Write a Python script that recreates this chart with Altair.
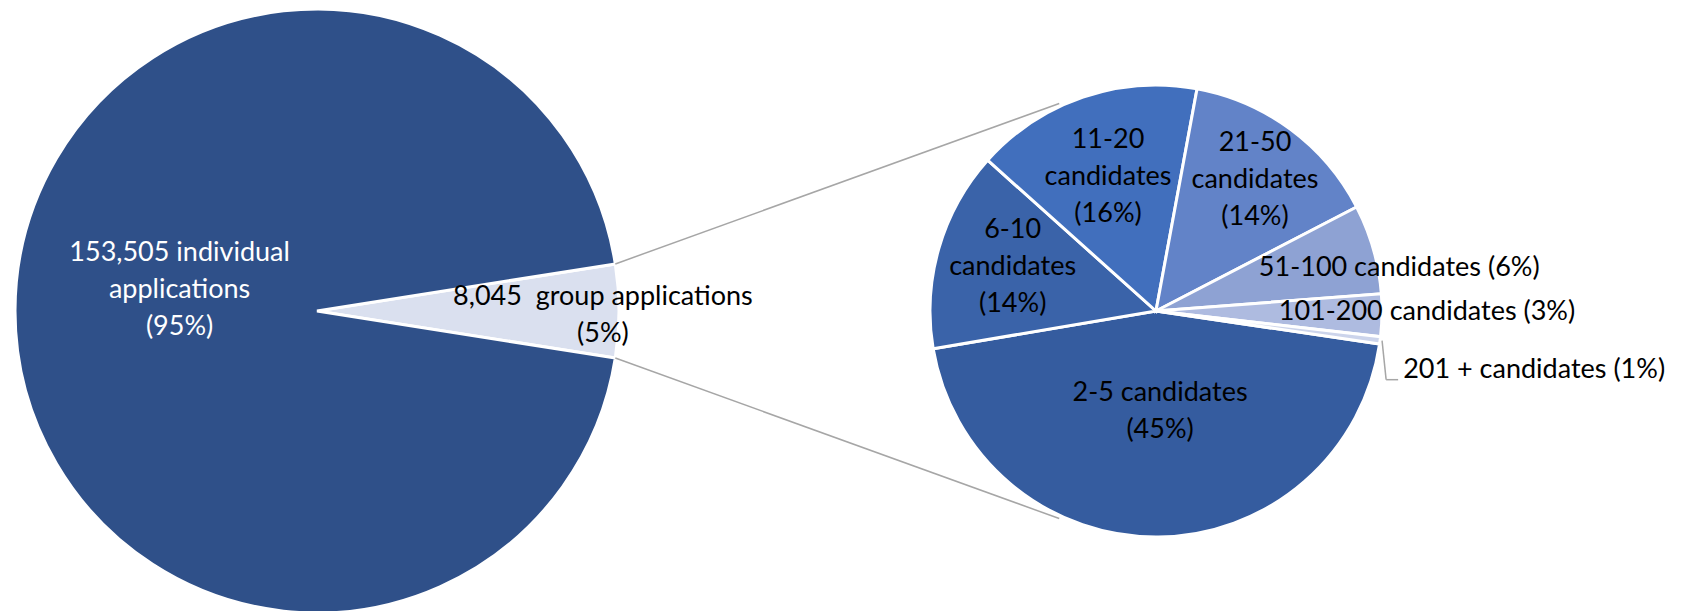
import math
import altair as alt
import pandas as pd

# ---------------- data ----------------
main_labels = ["group", "individual"]
main_values = [8045, 153505]
main_texts = ["8,045\u00a0 group applications\n(5%)", "153,505 individual\napplications\n(95%)"]

group_labels = ["2-5", "6-10", "11-20", "21-50", "51-100", "101-200", "201+"]
group_values = [3620, 1150, 1310, 1165, 515, 243, 42]
group_texts = [
    "2-5 candidates\n(45%)",
    "6-10\ncandidates\n(14%)",
    "11-20\ncandidates\n(16%)",
    "21-50\ncandidates\n(14%)",
    "51-100 candidates (6%)",
    "101-200 candidates (3%)",
    "201 + candidates (1%)",
]

# ---------------- styles ----------------
main_colors = ["#DAE0EF", "#2F5089"]
group_colors = ["#355C9F", "#3A63A9", "#416FBD", "#6283C8", "#8EA2D3", "#AEBBE0", "#CCD4EB"]
main_text_colors = ["#000000", "#FFFFFF"]
group_text_colors = ["#000000"] * 7
FONT = "Lato"
FONT_SIZE = 27
LINE_H = 37
GREY = "#A6A6A6"

# ---------------- layout ----------------
W, H = 1683, 611
L_CX, L_CY, L_R = 317, 311, 302
R_CX, R_CY, R_R = 1156, 311, 226
L_START = 90 - 180 * main_values[0] / sum(main_values)   # centre group slice at 3 o'clock
R_START = 98.4
main_label_r = [286, 139]
main_label_nudge = [1.0, 8.7]
group_label_r = [101, 150, 142, 164, 247, 271, 254]
group_label_nudge = [-1.7, 1.0, -0.9, 0.6, 5.9, -0.95, 5.9]
group_label_align = ["center"] * 6 + ["left"]
CONNECT_ANGLE = 25  # degrees from vertical on the second pie

main_df = pd.DataFrame({
    "label": main_labels, "value": main_values, "text": main_texts,
    "idx": list(range(len(main_labels))), "tcolor": main_text_colors,
    "lr": main_label_r, "nudge": main_label_nudge, "align": ["center", "center"],
})
group_df = pd.DataFrame({
    "label": group_labels, "value": group_values, "text": group_texts,
    "idx": list(range(len(group_labels))), "tcolor": group_text_colors,
    "lr": group_label_r, "nudge": group_label_nudge, "align": group_label_align,
})


def pie(df, cx, cy, r, start, labels, colors):
    s = math.radians(start)
    return alt.Chart(df).mark_arc(radius=r, stroke="white", strokeWidth=3).encode(
        x=alt.value(cx), y=alt.value(cy),
        theta=alt.Theta("value:Q", stack=True, scale=alt.Scale(range=[s, s + 2 * math.pi])),
        color=alt.Color("label:N", scale=alt.Scale(domain=labels, range=colors), legend=None),
        order=alt.Order("idx:Q"),
    )


def label_base(df, cx, cy, start):
    return alt.Chart(df).transform_window(
        cum="sum(value)", sort=[alt.SortField("idx")], frame=[None, 0]
    ).transform_joinaggregate(total="sum(value)").transform_calculate(
        mid=f"({start} + 360*(datum.cum - datum.value/2)/datum.total + datum.nudge)*PI/180",
        emid=f"({start} + 360*(datum.cum - datum.value/2)/datum.total)*PI/180",
        nlines="split(datum.text, '\\n').length",
    ).transform_calculate(
        lx=f"{cx} + datum.lr*sin(datum.mid)",
        ly=f"{cy} - datum.lr*cos(datum.mid)",
    ).transform_calculate(
        ty=f"datum.ly - (datum.nlines - 1)*{LINE_H}/2",
    )


def texts(base, align):
    return base.transform_filter(f"datum.align == '{align}'").mark_text(
        align=align, baseline="middle", font=FONT, fontSize=FONT_SIZE,
        lineHeight=LINE_H, lineBreak="\n",
    ).encode(
        x=alt.X("lx:Q", scale=None, axis=None),
        y=alt.Y("ty:Q", scale=None, axis=None),
        text="text:N",
        color=alt.Color("tcolor:N", scale=None),
    )


left_pie = pie(main_df, L_CX, L_CY, L_R, L_START, main_labels, main_colors)
right_pie = pie(group_df, R_CX, R_CY, R_R, R_START, group_labels, group_colors)

lbase = label_base(main_df, L_CX, L_CY, L_START)
rbase = label_base(group_df, R_CX, R_CY, R_START)

# leader line for the tiny slice (from slice edge to the left-aligned label)
leader_base = rbase.transform_filter("datum.align == 'left'").transform_calculate(
    ex=f"{R_CX} + {R_R + 2}*sin(datum.emid)",
    ey=f"{R_CY} - {R_R + 2}*cos(datum.emid)",
    kx="datum.lx - 17", ky="datum.ly + 10", kx2="datum.lx - 5",
)
leader1 = leader_base.mark_rule(color=GREY, strokeWidth=1.5).encode(
    x=alt.X("ex:Q", scale=None, axis=None), y=alt.Y("ey:Q", scale=None, axis=None),
    x2="kx:Q", y2="ky:Q",
)
leader2 = leader_base.mark_rule(color=GREY, strokeWidth=1.5).encode(
    x=alt.X("kx:Q", scale=None, axis=None), y=alt.Y("ky:Q", scale=None, axis=None),
    x2="kx2:Q", y2="ky:Q",
)

# connector lines between the group slice of the first pie and the second pie
half = 180 * main_values[0] / sum(main_values)
a_top, a_bot = math.radians(90 - half), math.radians(90 + half)
b_top, b_bot = math.radians(-CONNECT_ANGLE), math.radians(180 + CONNECT_ANGLE)
conn_df = pd.DataFrame({
    "x": [L_CX + L_R * math.sin(a_top), L_CX + L_R * math.sin(a_bot)],
    "y": [L_CY - L_R * math.cos(a_top), L_CY - L_R * math.cos(a_bot)],
    "x2": [R_CX + (R_R + 3) * math.sin(b_top), R_CX + (R_R + 3) * math.sin(b_bot)],
    "y2": [R_CY - (R_R + 3) * math.cos(b_top), R_CY - (R_R + 3) * math.cos(b_bot)],
})
connectors = alt.Chart(conn_df).mark_rule(color=GREY, strokeWidth=1.5).encode(
    x=alt.X("x:Q", scale=None, axis=None), y=alt.Y("y:Q", scale=None, axis=None),
    x2="x2:Q", y2="y2:Q",
)

chart = alt.layer(
    left_pie, right_pie, connectors,
    texts(lbase, "center"), texts(rbase, "center"), texts(rbase, "left"),
    leader1, leader2,
).resolve_scale(theta="independent", color="independent").properties(
    width=W, height=H, autosize="none", padding=0, background="white",
).configure_view(stroke=None)

chart.save("out.html", embed_options={"renderer": "svg", "actions": False})
